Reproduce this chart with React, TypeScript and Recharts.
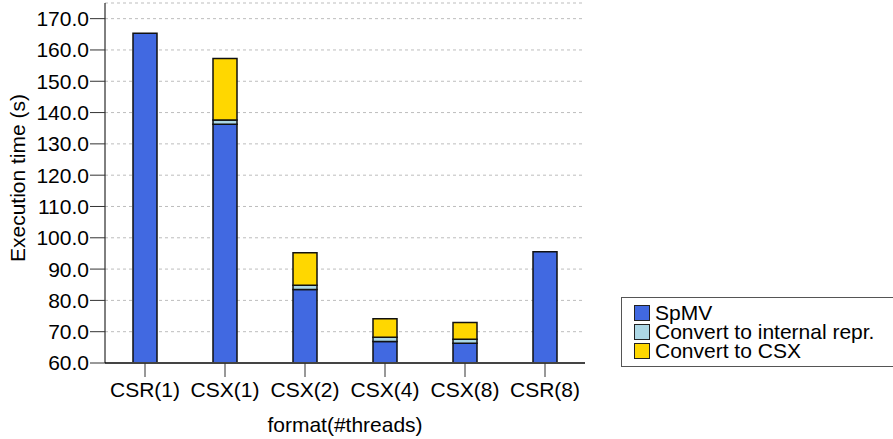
import React from 'react';
import { BarChart, Bar, XAxis, YAxis, CartesianGrid } from 'recharts';

// run configuration (format and thread count)
const categories = ['CSR(1)', 'CSX(1)', 'CSX(2)', 'CSX(4)', 'CSX(8)', 'CSR(8)'];

// execution time components, seconds
const spmv = [165.3, 136.3, 83.5, 66.9, 66.3, 95.5];
const convertInternal = [0, 1.3, 1.3, 1.3, 1.3, 0];
const convertCsx = [0, 19.7, 10.4, 5.9, 5.3, 0];

const yTicks = [60, 70, 80, 90, 100, 110, 120, 130, 140, 150, 160, 170];

const series = [
  { key: 'spmv', name: 'SpMV', color: '#4169E1' },
  { key: 'internal', name: 'Convert to internal repr.', color: '#ADD8E6' },
  { key: 'csx', name: 'Convert to CSX', color: '#FFD700' },
];

const data = categories.map((name, i) => ({
  name,
  spmv: spmv[i],
  internal: convertInternal[i],
  csx: convertCsx[i],
}));

const FONT = '"Liberation Sans", Arial, sans-serif';
const FS = 21;

// legend box, drawn beside the plot in the same order as the stack
const LegendBox = () => (
  <div
    style={{
      position: 'absolute',
      left: 621,
      top: 297,
      width: 300,
      height: 70,
      boxSizing: 'border-box',
      border: '1px solid #555',
      padding: '5px 0 0 12px',
      fontFamily: FONT,
      fontSize: FS,
      lineHeight: '19px',
      color: '#000',
      background: '#fff',
    }}
  >
    {series.map((s) => (
      <div key={s.key} style={{ display: 'flex', alignItems: 'center', height: 19 }}>
        <span
          style={{
            display: 'inline-block',
            width: 14,
            height: 14,
            background: s.color,
            border: '1px solid #222',
            marginRight: 5,
          }}
        />
        <span>{s.name}</span>
      </div>
    ))}
  </div>
);

const YLabel = () => (
  <text
    x={0}
    y={0}
    transform="translate(25,178) rotate(-90)"
    textAnchor="middle"
    fontFamily={FONT}
    fontSize={FS}
    fill="#000"
  >
    Execution time (s)
  </text>
);

export default function App() {
  return (
    <div style={{ position: 'absolute', left: 0, top: 0, width: 893, height: 439, background: '#fff', overflow: 'hidden' }}>
      <BarChart
        width={893}
        height={439}
        data={data}
        margin={{ top: 3, right: 308, bottom: 0, left: 10 }}
        barSize={24}
      >
        <CartesianGrid
          horizontal
          vertical={false}
          stroke="#bdbdbd"
          strokeDasharray="3 3"
        />
        <XAxis
          dataKey="name"
          height={76}
          tickSize={14}
          tickMargin={5}
          axisLine={{ stroke: '#444', strokeWidth: 2 }}
          tickLine={{ stroke: '#333' }}
          tick={{ fill: '#000', fontSize: FS, fontFamily: FONT }}
          interval={0}
          label={{
            value: 'format(#threads)',
            position: 'insideBottom',
            offset: 7,
            fill: '#000',
            fontSize: FS,
            fontFamily: FONT,
          }}
        />
        <YAxis
          width={95}
          domain={[60, 175]}
          ticks={yTicks}
          interval={0}
          allowDataOverflow
          tickSize={15}
          tickMargin={1}
          tickFormatter={(v: number) => v.toFixed(1)}
          axisLine={{ stroke: '#000' }}
          tickLine={{ stroke: '#333' }}
          tick={{ fill: '#000', fontSize: FS, fontFamily: FONT }}
          label={<YLabel />}
        />
        {series.map((s) => (
          <Bar
            key={s.key}
            dataKey={s.key}
            name={s.name}
            stackId="t"
            fill={s.color}
            stroke="#111"
            strokeWidth={1.5}
            isAnimationActive={false}
          />
        ))}
      </BarChart>
      <LegendBox />
    </div>
  );
}
